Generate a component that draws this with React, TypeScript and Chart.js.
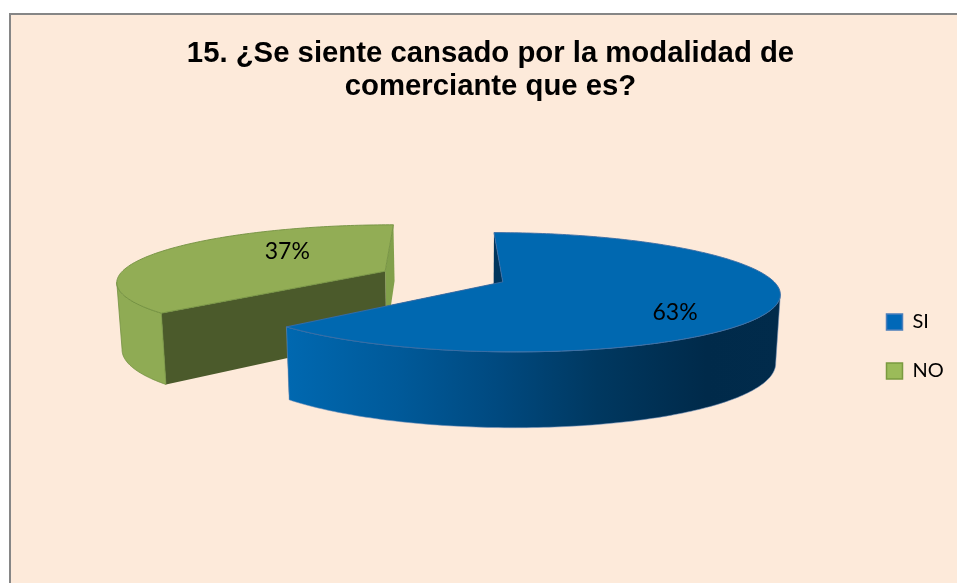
import React, { useEffect, useRef } from "react";
import { Chart, registerables, PieController } from "chart.js";

const categories = ["SI", "NO"];
const values = [63, 37];
const titleLines = ["15. ¿Se siente cansado por la modalidad de", "comerciante que es?"];
const topColors = ["#0068B0", "#92AD55"];
const legendFills = ["#0068B8", "#9BBB59"];
const legendBorders = ["#4A7EBB", "#7A9A3F"];
const startEdgeColors = ["#00355C", "#4B5A2B"];
const endEdgeColors = ["#00355C", "#82A04B"];

// Perspective of the pie plane on the page
const VIEW = { sx: 443, sy: 276.5, ax: 267, shear: 0, by: 56, p: 0.17, depth: 66, depthV: 9, taper: 0.015, taperX: 470 };
const LABEL_NUDGE = [
  [0, 15],
  [50, -6],
];

function project(u: number, v: number) {
  const w = 1 - VIEW.p * v;
  return { x: VIEW.sx + (VIEW.ax * u + VIEW.shear * v) / w, y: VIEW.sy + (VIEW.by * v) / w };
}
function projectBottom(u: number, v: number) {
  const t = project(u, v);
  return { x: t.x - VIEW.taper * (t.x - VIEW.taperX), y: t.y + VIEW.depth + VIEW.depthV * v };
}
function sliceGeom(arc: any) {
  const mid = (arc.startAngle + arc.endAngle) / 2;
  const off = arc.options.offset / arc.outerRadius;
  const ou = off * Math.cos(mid);
  const ov = off * Math.sin(mid);
  return { ou, ov, mid };
}
function anglesBetween(a: number, b: number) {
  const n = Math.max(2, Math.ceil(((b - a) * 180) / Math.PI));
  const out: number[] = [];
  for (let i = 0; i <= n; i++) out.push(a + ((b - a) * i) / n);
  return out;
}
function poly(ctx: CanvasRenderingContext2D, pts: { x: number; y: number }[], fill: any, stroke?: string) {
  ctx.beginPath();
  pts.forEach((p, i) => (i ? ctx.lineTo(p.x, p.y) : ctx.moveTo(p.x, p.y)));
  ctx.closePath();
  ctx.fillStyle = fill;
  ctx.fill();
  if (stroke) {
    ctx.strokeStyle = stroke;
    ctx.lineWidth = 1;
    ctx.stroke();
  }
}

class Pie3DController extends PieController {
  static id = "pie3d";
  draw() {
    const ctx = this.chart.ctx as CanvasRenderingContext2D;
    const arcs: any[] = this._cachedMeta.data as any[];
    for (let i = arcs.length - 1; i >= 0; i--) {
      const arc = arcs[i];
      const { ou, ov } = sliceGeom(arc);
      const s = arc.startAngle;
      const e = arc.endAngle;
      const rim = (a: number) => [ou + Math.cos(a), ov + Math.sin(a)] as const;
      const rimTop = (a: number) => project(rim(a)[0], rim(a)[1]);
      // cut faces
      const edge = (a: number, color: string) => {
        const [u, v] = rim(a);
        poly(ctx, [project(ou, ov), project(u, v), projectBottom(u, v), projectBottom(ou, ov)], color);
      };
      edge(e, endEdgeColors[i]);
      edge(s, startEdgeColors[i]);
      // outer wall, only between the silhouette points of the rim
      const all = anglesBetween(s, e);
      const xs = all.map((a) => rimTop(a).x);
      const maxAt = xs.indexOf(Math.max(...xs));
      const minAt = xs.indexOf(Math.min(...xs));
      const from = maxAt > 0 && maxAt < all.length - 1 ? maxAt : 0;
      const to = minAt > 0 && minAt < all.length - 1 ? minAt : all.length - 1;
      const list = all.slice(from, to + 1);
      if (list.length > 1) {
        const top = list.map(rimTop);
        const bot = list.map((a) => projectBottom(rim(a)[0], rim(a)[1])).reverse();
        let fill: any;
        if (i === 0) {
          fill = ctx.createLinearGradient(288, 0, 780, 0);
          fill.addColorStop(0, "#0068B0");
          fill.addColorStop(0.22, "#005A9A");
          fill.addColorStop(0.43, "#00497F");
          fill.addColorStop(0.63, "#003860");
          fill.addColorStop(0.85, "#002A4A");
          fill.addColorStop(1, "#012B4B");
        } else {
          fill = "#8FAB54";
        }
        poly(ctx, top.concat(bot), fill, i === 0 ? "rgba(120,150,190,0.55)" : "rgba(115,145,65,0.8)");
      }
      // top face
      const pts = [project(ou, ov)].concat(all.map(rimTop));
      poly(ctx, pts, arc.options.backgroundColor, i === 0 ? "rgba(60,110,165,0.9)" : "rgba(115,145,65,0.9)");
    }
  }
}

Chart.register(...registerables, Pie3DController);

const framePlugin = {
  id: "frame",
  beforeDraw(chart: any) {
    const { ctx, width, height } = chart;
    ctx.save();
    ctx.fillStyle = "#FFFFFF";
    ctx.fillRect(0, 0, width, height);
    ctx.fillStyle = "#FDEADA";
    ctx.fillRect(10, 14, width, height);
    ctx.strokeStyle = "#868686";
    ctx.lineWidth = 2;
    ctx.beginPath();
    ctx.moveTo(10, height + 2);
    ctx.lineTo(10, 14);
    ctx.lineTo(width + 2, 14);
    ctx.stroke();
    ctx.restore();
  },
  afterLayout(chart: any) {
    const lg = chart.legend;
    const w = lg.width;
    const h = lg.height;
    lg.left = 857.5;
    lg.right = 857.5 + w;
    lg.top = 283;
    lg.bottom = 283 + h;
  },
};

const labelPlugin = {
  id: "sliceLabels",
  afterDatasetsDraw(chart: any) {
    const { ctx } = chart;
    const arcs = chart.getDatasetMeta(0).data;
    const total = values.reduce((a, b) => a + b, 0);
    ctx.save();
    ctx.font = "23px Lato";
    ctx.fillStyle = "#000000";
    ctx.textAlign = "center";
    ctx.textBaseline = "middle";
    arcs.forEach((arc: any, i: number) => {
      const { ou, ov, mid } = sliceGeom(arc);
      const p = project(ou + 0.65 * Math.cos(mid), ov + 0.65 * Math.sin(mid));
      ctx.fillText(Math.round((values[i] / total) * 100) + "%", p.x + LABEL_NUDGE[i][0], p.y + LABEL_NUDGE[i][1]);
    });
    ctx.restore();
  },
};

export default function App() {
  const ref = useRef<HTMLCanvasElement>(null);
  useEffect(() => {
    const chart = new Chart(ref.current as HTMLCanvasElement, {
      type: "pie3d" as any,
      data: {
        labels: categories,
        datasets: [{ data: values, backgroundColor: topColors, offset: 24, borderWidth: 0 }],
      },
      options: {
        animation: false,
        responsive: false,
        radius: 100,
        layout: { padding: { left: 24 } },
        plugins: {
          tooltip: { enabled: false },
          title: {
            display: true,
            text: titleLines,
            color: "#000000",
            font: { family: "Liberation Sans", weight: "bold", size: 29.3, lineHeight: 33 / 29.3 },
            padding: { top: 37, bottom: 10 },
          },
          legend: {
            position: "right",
            align: "start",
            labels: {
              boxWidth: 16,
              boxHeight: 16,
              padding: 29,
              color: "#000000",
              font: { family: "Lato", size: 20 },
              generateLabels: () =>
                categories.map((c, i) => ({
                  text: c,
                  fillStyle: legendFills[i],
                  strokeStyle: legendBorders[i],
                  lineWidth: 1.5,
                  index: i,
                })),
            },
          },
        },
      } as any,
      plugins: [framePlugin, labelPlugin],
    });
    return () => chart.destroy();
  }, []);
  return (
    <canvas
      ref={ref}
      width={957}
      height={583}
      style={{ position: "absolute", left: 0, top: 0, display: "block" }}
    />
  );
}
